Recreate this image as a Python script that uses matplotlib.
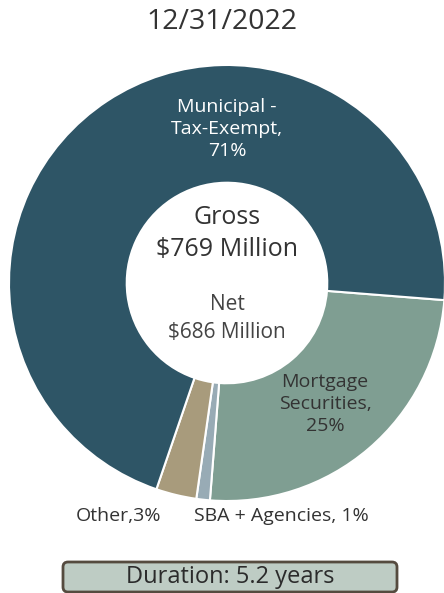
import matplotlib.pyplot as plt
from matplotlib.patches import FancyBboxPatch

W, H = 444, 593

# donut data, drawn clockwise starting just below 3 o'clock
SEGMENTS = ['Mortgage Securities', 'SBA + Agencies', 'Other', 'Municipal - Tax-Exempt']
SHARES = [25, 1, 3, 71]
COLORS = ['#7F9E92', '#98ABB5', '#A89B7C', '#2E5566']

TITLE = '12/31/2022'
GROSS = ['Gross', '$769 Million']
NET = ['Net', '$686 Million']
DURATION = 'Duration: 5.2 years'

FONT = 'Open Sans'


def py(y):
    #flip from image pixel rows to axes coordinates
    return H - y


def main():
    fig = plt.figure(figsize=(W / 100, H / 100), dpi=100)
    ax = fig.add_axes([0, 0, 1, 1])

    cx, cy, r = 227, 283, 218

    #the donut
    ax.pie(SHARES, colors=COLORS, startangle=-4.5, counterclock=False,
           center=(cx, py(cy)), radius=r, frame=True,
           wedgeprops=dict(width=r * 0.54, edgecolor='white', linewidth=1.5))
    ax.set_xlim(0, W)
    ax.set_ylim(0, H)
    ax.set_aspect('equal')
    ax.axis('off')

    #title
    ax.text(W / 2, py(22), TITLE, ha='center', va='center', fontsize=20.5,
            color='#333333', family=FONT)

    #text in the hole
    ax.text(cx, py(217), GROSS[0], ha='center', va='center', fontsize=18,
            color='#333333', family=FONT)
    ax.text(cx, py(249), GROSS[1], ha='center', va='center', fontsize=18,
            color='#333333', family=FONT)
    ax.text(cx, py(305), NET[0], ha='center', va='center', fontsize=15,
            color='#444444', family=FONT)
    ax.text(cx, py(333), NET[1], ha='center', va='center', fontsize=15,
            color='#444444', family=FONT)

    #segment labels
    ax.text(cx, py(129), 'Municipal -\nTax-Exempt,\n%d%%' % SHARES[3], ha='center',
            va='center', fontsize=14, color='white', family=FONT, linespacing=1.3)
    ax.text(325, py(404), 'Mortgage\nSecurities,\n%d%%' % SHARES[0], ha='center',
            va='center', fontsize=14, color='#333333', family=FONT, linespacing=1.3)
    ax.text(118, py(516), 'Other,%d%%' % SHARES[2], ha='center', va='center',
            fontsize=14, color='#333333', family=FONT)
    ax.text(281, py(516), 'SBA + Agencies, %d%%' % SHARES[1], ha='center', va='center',
            fontsize=14, color='#333333', family=FONT)

    #duration box
    box = FancyBboxPatch((63, py(592)), 334, 30, boxstyle='round,pad=0,rounding_size=5',
                         facecolor='#BECCC4', edgecolor='#554B3F', linewidth=2,
                         clip_on=False)
    ax.add_patch(box)
    ax.text(230, py(577), DURATION, ha='center', va='center', fontsize=17,
            color='#2B2B2B', family=FONT)

    fig.savefig('out.png', dpi=100)
    plt.close(fig)


if __name__ == '__main__':
    main()
